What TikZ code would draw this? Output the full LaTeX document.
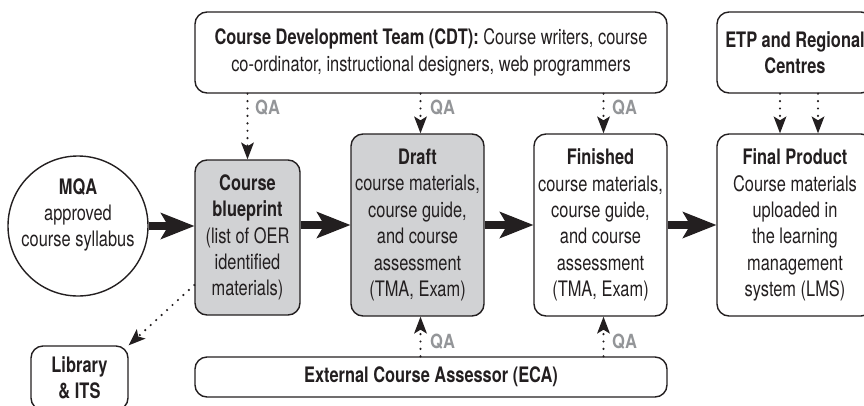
\documentclass[tikz,border=0pt]{standalone}
\usepackage{fontspec}
\setmainfont{TeX Gyre Heros}[FakeStretch=0.77]
\newfontfamily\bhfam{TeX Gyre Heros}[FakeStretch=0.845]
\usetikzlibrary{arrows.meta}
\definecolor{ink}{HTML}{231F20}
\definecolor{boxgray}{HTML}{D1D2D4}
\definecolor{qagray}{HTML}{939598}
\tikzset{
  box/.style={draw=ink, line width=1.4pt, rounded corners=12pt, align=center,
    text=ink, inner sep=0pt, font=\fontsize{21.3}{26.4}\selectfont},
  graybox/.style={box, fill=boxgray},
  bigarrow/.style={draw=ink, line width=8.5pt,
    -{Stealth[length=34pt, width=27pt, inset=8pt, line width=0pt]}},
  dotarrow/.style={draw=ink, line width=2.4pt, line cap=round,
    dash pattern=on 0pt off 7.4pt,
    -{Stealth[length=17pt, width=13pt, inset=4pt, line width=0pt]}},
  qa/.style={text=qagray, font=\bhfam\bfseries\fontsize{19.5}{21}\selectfont,
    inner sep=0pt, anchor=west},
}
\begin{document}
\begin{tikzpicture}[x=1pt, y=-1pt]
\useasboundingbox (0,0) rectangle (864,405);
\clip (0,0) rectangle (864,405);

% boxes
\node[box, minimum width=472pt, minimum height=81pt] (cdt) at (431,52.5)
  {\textbf{Course Development Team (CDT):} Course writers, course\\
   co-ordinator, instructional designers, web programmers};
\node[box, minimum width=156pt, minimum height=81pt] (etp) at (795,52.5)
  {\textbf{ETP and Regional}\\ \textbf{Centres}};
\node[box, circle, minimum size=140pt] (mqa) at (78,226) {};
\node[text=ink, align=center, inner sep=0pt, font=\fontsize{21.3}{26.4}\selectfont] (mqat) at (78,215)
  {\textbf{MQA}\\ approved\\ course syllabus};
\node[graybox, minimum width=105pt, minimum height=155pt] (bp) at (247.5,237.5)
  {\textbf{Course}\\ \textbf{blueprint}\\ (list of OER\\ identified\\ materials)};
\node[graybox, minimum width=133pt, minimum height=182pt] (draft) at (417.5,225)
  {\textbf{Draft}\\ course materials,\\ course guide,\\ and course\\ assessment\\ (TMA, Exam)};
\node[box, minimum width=133pt, minimum height=182pt] (fin) at (600.5,225)
  {\textbf{Finished}\\ course materials,\\ course guide,\\ and course\\ assessment\\ (TMA, Exam)};
\node[box, minimum width=156pt, minimum height=182pt] (final) at (795,225)
  {\textbf{Final Product}\\ Course materials\\ uploaded in\\ the learning\\ management\\ system (LMS)};
\node[box, minimum width=97pt, minimum height=64pt] (lib) at (79.5,378)
  {\textbf{Library}\\ \textbf{\& ITS}};
\node[box, minimum width=472pt, minimum height=40pt] (eca) at (431,377)
  {\textbf{External Course Assessor (ECA)}};

% main flow
\draw[bigarrow] (mqa.east) -- (mqa.east -| bp.west);
\draw[bigarrow] (bp.east |- draft.west) -- (draft.west);
\draw[bigarrow] (draft.east) -- (fin.west);
\draw[bigarrow] (fin.east) -- (final.west);

% QA from CDT
\draw[dotarrow] (cdt.south -| bp.north) -- (bp.north);
\draw[dotarrow] ([xshift=3pt]cdt.south -| draft.north) -- ([xshift=3pt]draft.north);
\draw[dotarrow] ([xshift=3pt]cdt.south -| fin.north) -- ([xshift=3pt]fin.north);
\node[qa] (qa1) at (255,108) {QA};
\node[qa] (qa2) at (430,108) {QA};
\node[qa] (qa3) at (612,108) {QA};

% ETP to final
\draw[dotarrow] ([xshift=-15pt]etp.south) -- ([xshift=-15pt]final.north);
\draw[dotarrow] ([xshift=23pt]etp.south) -- ([xshift=23pt]final.north);

% QA from ECA
\draw[dotarrow] ([xshift=3pt]eca.north -| draft.south) -- ([xshift=3pt]draft.south);
\draw[dotarrow] ([xshift=3pt]eca.north -| fin.south) -- ([xshift=3pt]fin.south);
\node[qa] (qa4) at (430,342) {QA};
\node[qa] (qa5) at (612,342) {QA};

% blueprint to library
\draw[dotarrow] ([yshift=-47.5pt]bp.west) -- (lib.north east);
\end{tikzpicture}
\end{document}
